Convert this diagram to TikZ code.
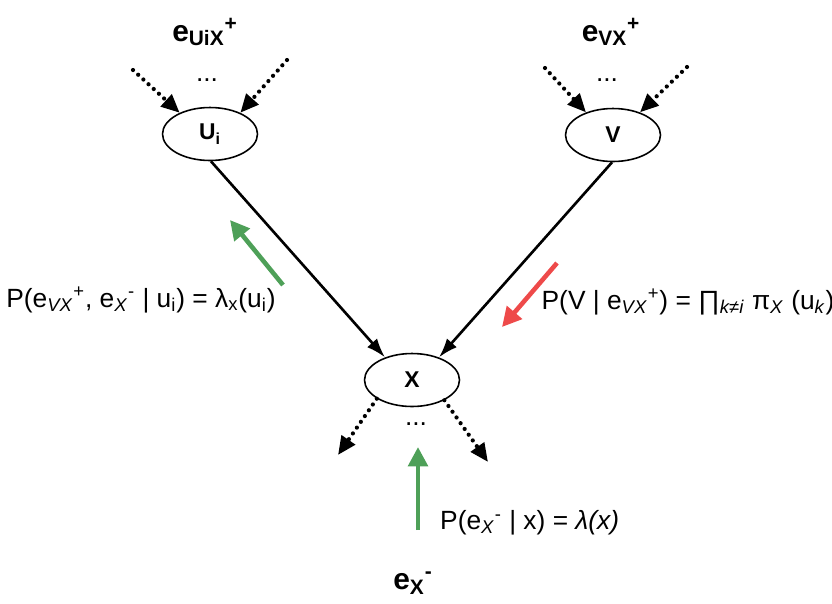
\documentclass[tikz,border=0pt]{standalone}
\usepackage{fontspec}
\setmainfont{Liberation Sans}
\usetikzlibrary{shapes.geometric,arrows.meta}
\definecolor{msggreen}{RGB}{78,160,88}
\definecolor{msgred}{RGB}{238,74,74}
\newcommand{\lo}[1]{\textsubscript{#1}}
\newcommand{\hi}[1]{\textsuperscript{#1}}

\begin{document}
\begin{tikzpicture}[x=0.02cm, y=-0.02cm,
  var/.style={ellipse, draw, line width=0.9pt, fill=white, minimum width=1.9cm, minimum height=1.06cm,
    inner sep=0pt, font=\fontsize{13}{15}\selectfont\bfseries},
  dots/.style={line width=2.4pt, dash pattern=on 0pt off 4pt, line cap=round,
    -{Triangle[length=10.5pt,width=9pt]}},
  link/.style={line width=1.5pt, -{Latex[length=11pt,width=7.5pt]}},
  msg/.style={line width=2.6pt, -{Triangle[length=11pt,width=11pt]}},
  lbl/.style={font=\fontsize{15}{18}\selectfont},
  ev/.style={font=\fontsize{17}{20}\selectfont\bfseries}]
  \useasboundingbox (0,0) rectangle (832,603);

  \node[var] (Ui) at (210,134) {U\lo{i}};
  \node[var] (V) at (613,135) {V};
  \node[var] (X) at (412,380) {X};

  \node[ev] (eUi) at (205,32) {e\lo{UiX}\hi{+}};
  \node[ev] (eV) at (611,32) {e\lo{VX}\hi{+}};
  \node[ev] (eX) at (413,583) {e\lo{X}\hi{-}};
  \node[lbl] (dUi) at (207,80) {...};
  \node[lbl] (dV) at (607,80) {...};
  \node[lbl] (dX) at (416,424) {...};

  \coordinate (inUa) at (133,70);
  \coordinate (inUb) at (287,60);
  \coordinate (inVa) at (545,68);
  \coordinate (inVb) at (687,67);
  \coordinate (outXa) at (338,455);
  \coordinate (outXb) at (488,462);
  \draw[dots] (inUa) -- (Ui.145);
  \draw[dots] (inUb) -- (Ui.35);
  \draw[dots] (inVa) -- (V.140);
  \draw[dots] (inVb) -- (V.40);
  \draw[dots] (X.208) -- (outXa);
  \draw[dots] (X.328) -- (outXb);

  \draw[link] (Ui.-88) -- (X.140);
  \draw[link] (V.-92) -- (X.40);

  \coordinate (lamT) at (283,285);
  \coordinate (lamH) at (230,220);
  \coordinate (piT) at (557,263);
  \coordinate (piH) at (502,327);
  \coordinate (evT) at (418,530);
  \coordinate (evH) at (418,447);
  \draw[msg, msggreen] (lamT) -- (lamH);
  \draw[msg, msgred] (piT) -- (piH);
  \draw[msg, msggreen] (evT) -- (evH);

  \node[lbl] (lamL) at (141,300) {P(e\lo{\textit{VX}}\hi{+}, e\lo{\textit{X}}\hi{-} | u\lo{i}) = λ\lo{x}(u\lo{i})};
  \node[lbl] (piL) at (688,302) {P(V | e\lo{\textit{VX}}\hi{+}) = ∏\lo{\textit{k≠i}} π\lo{\textit{X}} (u\lo{\textit{k}})};
  \node[lbl, anchor=west] (evL) at (434,523) {P(e\lo{\textit{X}}\hi{-} | x) = \textit{λ(x)}};
\end{tikzpicture}
\end{document}
